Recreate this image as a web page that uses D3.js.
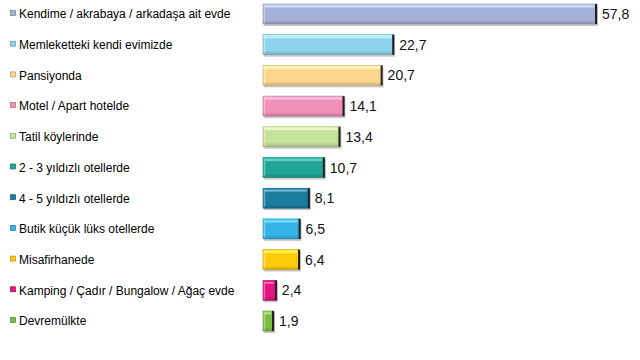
<!DOCTYPE html>
<html>
<head>
<meta charset="utf-8">
<script src="https://cdn.jsdelivr.net/npm/d3@7"></script>
<style>
  body { margin: 0; background: #fff; }
  text { font-family: "Liberation Sans", Arial, sans-serif; }
</style>
</head>
<body>
<script>
// data
var categories = [
  "Kendime / akrabaya / arkadaşa ait evde",
  "Memleketteki kendi evimizde",
  "Pansiyonda",
  "Motel / Apart hotelde",
  "Tatil köylerinde",
  "2 - 3 yıldızlı otellerde",
  "4 - 5 yıldızlı otellerde",
  "Butik küçük lüks otellerde",
  "Misafirhanede",
  "Kamping / Çadır / Bungalow / Ağaç evde",
  "Devremülkte"
];
var values = [57.8, 22.7, 20.7, 14.1, 13.4, 10.7, 8.1, 6.5, 6.4, 2.4, 1.9];
var colors = ["#a6b1da", "#8ed2f0", "#fdd68e", "#f291b6", "#c4e29c",
              "#1fa696", "#1a7d9e", "#34b4e6", "#fecb0a", "#e3137f", "#79bd45"];

var W = 640, H = 360;
var svg = d3.select("body").append("svg")
  .attr("width", W)
  .attr("height", H);

var x = d3.scaleLinear().domain([0, 57.8]).range([263, 597]);
var y = d3.scalePoint().domain(categories).range([14, 321]);
var barH = 20;

var defs = svg.append("defs");
colors.forEach(function(c, i) {
  var g = defs.append("linearGradient")
    .attr("id", "grad" + i)
    .attr("x1", 0).attr("y1", 0).attr("x2", 0).attr("y2", 1);
  g.append("stop").attr("offset", "0%").attr("stop-color", d3.color(c).brighter(0.5));
  g.append("stop").attr("offset", "25%").attr("stop-color", c);
  g.append("stop").attr("offset", "80%").attr("stop-color", c);
  g.append("stop").attr("offset", "100%").attr("stop-color", d3.color(c).darker(0.6));
});

var rows = svg.selectAll("g.row")
  .data(values)
  .enter()
  .append("g")
  .attr("class", "row");

// shadow
rows.append("rect")
  .attr("x", x(0) + 1)
  .attr("y", function(d, i) { return y(categories[i]) - barH / 2 + 2; })
  .attr("width", function(d) { return x(d) - x(0); })
  .attr("height", barH)
  .style("fill", "#c8c8c8");

// bar body
rows.append("rect")
  .attr("x", x(0))
  .attr("y", function(d, i) { return y(categories[i]) - barH / 2; })
  .attr("width", function(d) { return x(d) - x(0); })
  .attr("height", barH)
  .style("fill", function(d, i) { return "url(#grad" + i + ")"; })
  .style("stroke", function(d, i) { return d3.color(colors[i]).darker(0.7); })
  .style("stroke-width", 0.6);

// top bevel highlight
rows.append("line")
  .attr("x1", x(0) + 2)
  .attr("x2", function(d) { return x(d) - 3; })
  .attr("y1", function(d, i) { return y(categories[i]) - barH / 2 + 2.5; })
  .attr("y2", function(d, i) { return y(categories[i]) - barH / 2 + 2.5; })
  .style("stroke", "#ffffff")
  .style("stroke-opacity", 0.45)
  .style("stroke-width", 1.5);

// left bevel
rows.append("line")
  .attr("x1", x(0) + 1.5)
  .attr("x2", x(0) + 1.5)
  .attr("y1", function(d, i) { return y(categories[i]) - barH / 2 + 1; })
  .attr("y2", function(d, i) { return y(categories[i]) + barH / 2 - 1; })
  .style("stroke", "#ffffff")
  .style("stroke-opacity", 0.35)
  .style("stroke-width", 1.5);

// dark right edge
rows.append("line")
  .attr("x1", function(d) { return x(d) - 1; })
  .attr("x2", function(d) { return x(d) - 1; })
  .attr("y1", function(d, i) { return y(categories[i]) - barH / 2; })
  .attr("y2", function(d, i) { return y(categories[i]) + barH / 2; })
  .style("stroke", "#222")
  .style("stroke-width", 2);

// value labels
rows.append("text")
  .attr("x", function(d) { return x(d) + 5; })
  .attr("y", function(d, i) { return y(categories[i]); })
  .attr("dy", "0.36em")
  .style("font-size", "14px")
  .style("fill", "#111")
  .text(function(d) { return d3.format(".1f")(d).replace(".", ","); });

// legend squares
rows.append("rect")
  .attr("x", 10.5)
  .attr("y", function(d, i) { return y(categories[i]) - 3.5; })
  .attr("width", 5)
  .attr("height", 5)
  .style("fill", function(d, i) { return colors[i]; })
  .style("stroke", function(d, i) { return d3.color(colors[i]).darker(1); })
  .style("stroke-width", 0.7);

// category labels
rows.append("text")
  .attr("x", 19)
  .attr("y", function(d, i) { return y(categories[i]); })
  .attr("dy", "0.36em")
  .style("font-size", "12px")
  .style("fill", "#000")
  .text(function(d, i) { return categories[i]; });
</script>
</body>
</html>
